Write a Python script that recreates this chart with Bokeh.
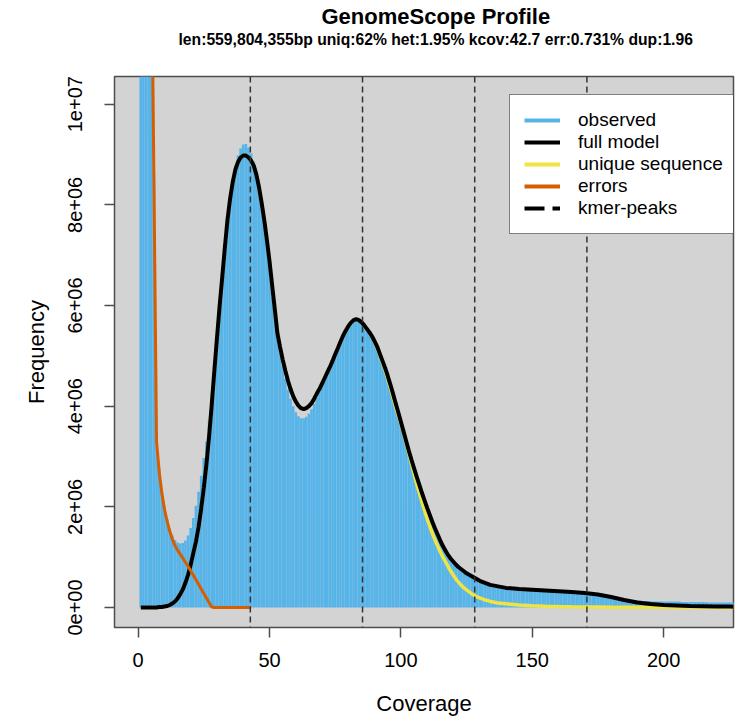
from bokeh.plotting import figure
from bokeh.models import Range1d, Span, Legend, LegendItem, Title, FixedTicker
from bokeh.embed import file_html
from bokeh.resources import INLINE

MIL = 1e6
FONT = "Liberation Sans"

# ---------------- data (frequencies in millions) ----------------
coverage = list(range(1, 231))
observed_m = [
    180.0, 52.0, 28.0, 19.0, 13.8, 8.6, 3.45, 2.78, 2.32, 2.00,
    1.76, 1.57, 1.43, 1.34, 1.29, 1.27, 1.28, 1.33, 1.43, 1.58,
    1.78, 2.02, 2.30, 2.62, 2.97, 3.30, 3.72, 4.25, 4.85, 5.45,
    6.05, 6.63, 7.20, 7.72, 8.15, 8.50, 8.78, 8.98, 9.12, 9.20,
    9.21, 9.14, 9.02, 8.86, 8.64, 8.37, 8.04, 7.68, 7.28, 6.84,
    6.36, 5.88, 5.40, 5.06, 4.80, 4.55, 4.33, 4.15, 4.00, 3.88,
    3.80, 3.76, 3.76, 3.79, 3.85, 3.94, 4.05, 4.17, 4.29, 4.42,
    4.54, 4.66, 4.77, 4.90, 5.03, 5.15, 5.28, 5.40, 5.50, 5.59,
    5.65, 5.69, 5.70, 5.68, 5.63, 5.57, 5.50, 5.44, 5.36, 5.26,
    5.15, 5.01, 4.87, 4.73, 4.57, 4.40, 4.22, 4.03, 3.85, 3.66,
    3.47, 3.28, 3.09, 2.91, 2.74, 2.57, 2.41, 2.25, 2.10, 1.95,
    1.81, 1.67, 1.54, 1.42, 1.30, 1.19, 1.10, 1.01, 0.94, 0.88,
    0.82, 0.77, 0.73, 0.69, 0.65, 0.62, 0.59, 0.56, 0.53, 0.50,
    0.48, 0.46, 0.44, 0.43, 0.41, 0.40, 0.39, 0.38, 0.37, 0.37,
    0.36, 0.36, 0.35, 0.35, 0.35, 0.34, 0.34, 0.34, 0.33, 0.33,
    0.33, 0.33, 0.32, 0.32, 0.32, 0.32, 0.31, 0.31, 0.31, 0.30,
    0.30, 0.30, 0.30, 0.29, 0.29, 0.29, 0.28, 0.28, 0.27, 0.27,
    0.26, 0.26, 0.25, 0.24, 0.24, 0.23, 0.22, 0.21, 0.21, 0.20,
    0.19, 0.18, 0.18, 0.17, 0.16, 0.16, 0.15, 0.15, 0.14, 0.14,
    0.14, 0.13, 0.13, 0.13, 0.13, 0.12, 0.12, 0.12, 0.12, 0.12,
    0.12, 0.12, 0.12, 0.12, 0.12, 0.12, 0.11, 0.11, 0.11, 0.11,
    0.11, 0.11, 0.11, 0.11, 0.11, 0.11, 0.10, 0.10, 0.10, 0.10,
    0.10, 0.10, 0.10, 0.10, 0.10, 0.10, 0.10, 0.10, 0.10, 0.10,
]

model_cov = list(range(1, 141)) + [145, 150, 155, 160, 165, 170, 175, 180, 185,
                                   190, 195, 200, 205, 210, 215, 220, 225, 230]
full_model_m = [
    0.00, 0.00, 0.00, 0.00, 0.00, 0.00, 0.00, 0.01, 0.01, 0.02,
    0.03, 0.05, 0.08, 0.12, 0.18, 0.26, 0.36, 0.49, 0.65, 0.85,
    1.08, 1.31, 1.60, 1.97, 2.38, 2.85, 3.40, 4.02, 4.70, 5.35,
    5.98, 6.56, 7.15, 7.70, 8.12, 8.45, 8.70, 8.85, 8.94, 8.98,
    8.98, 8.94, 8.88, 8.78, 8.60, 8.35, 8.04, 7.70, 7.30, 6.88,
    6.40, 5.93, 5.45, 5.18, 4.93, 4.71, 4.51, 4.34, 4.20, 4.09,
    4.01, 3.96, 3.94, 3.96, 4.00, 4.06, 4.15, 4.25, 4.34, 4.45,
    4.56, 4.67, 4.78, 4.90, 5.03, 5.15, 5.28, 5.40, 5.50, 5.59,
    5.66, 5.71, 5.73, 5.71, 5.67, 5.61, 5.54, 5.47, 5.39, 5.29,
    5.18, 5.04, 4.90, 4.76, 4.60, 4.43, 4.25, 4.06, 3.88, 3.69,
    3.50, 3.31, 3.12, 2.94, 2.77, 2.60, 2.44, 2.28, 2.13, 1.98,
    1.84, 1.70, 1.57, 1.45, 1.33, 1.22, 1.13, 1.04, 0.97, 0.91,
    0.85, 0.80, 0.76, 0.72, 0.68, 0.65, 0.62, 0.59, 0.56, 0.53,
    0.51, 0.49, 0.47, 0.45, 0.44, 0.43, 0.42, 0.41, 0.40, 0.39,
    0.37, 0.355, 0.34, 0.325, 0.31, 0.29, 0.26, 0.21, 0.15,
    0.10, 0.07, 0.05, 0.04, 0.03, 0.025, 0.02, 0.018, 0.015,
]
unique_seq_m = [
    0.00, 0.00, 0.00, 0.00, 0.00, 0.00, 0.00, 0.01, 0.01, 0.02,
    0.03, 0.05, 0.08, 0.12, 0.18, 0.26, 0.36, 0.49, 0.65, 0.85,
    1.08, 1.31, 1.60, 1.97, 2.38, 2.85, 3.40, 4.02, 4.70, 5.35,
    5.98, 6.56, 7.15, 7.70, 8.12, 8.45, 8.70, 8.85, 8.94, 8.98,
    8.98, 8.94, 8.88, 8.78, 8.60, 8.35, 8.04, 7.70, 7.30, 6.88,
    6.40, 5.93, 5.45, 5.18, 4.93, 4.71, 4.51, 4.34, 4.20, 4.09,
    4.01, 3.96, 3.94, 3.96, 4.00, 4.06, 4.15, 4.25, 4.34, 4.45,
    4.56, 4.67, 4.78, 4.90, 5.03, 5.15, 5.28, 5.40, 5.50, 5.59,
    5.66, 5.71, 5.73, 5.71, 5.67, 5.61, 5.54, 5.47, 5.38, 5.27,
    5.15, 5.01, 4.86, 4.71, 4.54, 4.36, 4.17, 3.98, 3.82, 3.65,
    3.46, 3.27, 3.07, 2.86, 2.66, 2.46, 2.28, 2.10, 1.93, 1.76,
    1.61, 1.47, 1.34, 1.22, 1.11, 1.00, 0.91, 0.81, 0.72, 0.64,
    0.56, 0.50, 0.44, 0.39, 0.35, 0.31, 0.27, 0.24, 0.21, 0.19,
    0.17, 0.15, 0.14, 0.12, 0.11, 0.10, 0.09, 0.085, 0.08, 0.075,
    0.05, 0.035, 0.025, 0.018, 0.013, 0.01, 0.008, 0.006, 0.005,
    0.004, 0.003, 0.003, 0.002, 0.002, 0.002, 0.001, 0.001, 0.001,
]

error_cov = list(range(1, 44))
errors_m = [
    179.0, 51.5, 27.8, 18.9, 13.6, 8.5, 3.3, 2.70, 2.28, 1.96,
    1.72, 1.52, 1.36, 1.23, 1.14, 1.06, 0.98, 0.90, 0.82, 0.73,
    0.64, 0.55, 0.46, 0.37, 0.28, 0.19, 0.10, 0.01, 0.0, 0.0,
    0.0, 0.0, 0.0, 0.0, 0.0, 0.0, 0.0, 0.0, 0.0, 0.0,
    0.0, 0.0, 0.0,
]

kmer_peaks = [42.7, 85.4, 128.1, 170.8]

x_ticks = [0, 50, 100, 150, 200]
y_ticks = [0, 2e6, 4e6, 6e6, 8e6, 1e7]
y_tick_labels = ["0e+00", "2e+06", "4e+06", "6e+06", "8e+06", "1e+07"]

title_text = "GenomeScope Profile"
subtitle_text = "len:559,804,355bp uniq:62% het:1.95% kcov:42.7 err:0.731% dup:1.96"

C_HIST = "#56B4E9"
C_MODEL = "black"
C_UNIQUE = "#F0E442"
C_ERR = "#D55E00"

observed = [v * MIL for v in observed_m]
full_model = [v * MIL for v in full_model_m]
unique_seq = [v * MIL for v in unique_seq_m]
errors = [v * MIL for v in errors_m]

# ---------------- figure ----------------
p = figure(width=748, height=718, output_backend="svg", toolbar_location=None,
           title=None,
           x_range=Range1d(-9.0, 226.6), y_range=Range1d(-0.397e6, 10.55e6),
           min_border_left=114, min_border_right=15,
           min_border_top=76, min_border_bottom=91)

p.background_fill_color = "#D3D3D3"
p.border_fill_color = "white"
p.outline_line_color = "#4d4d4d"
p.outline_line_width = 1.5
p.grid.visible = False

p.vbar(x=coverage, top=observed, bottom=0, width=1.0,
       fill_color=C_HIST, line_color=None)

for pk in kmer_peaks:
    p.add_layout(Span(location=pk, dimension="height", line_color="#333333",
                      line_width=1.5, line_dash="6 4"))

r_unique = p.line(model_cov, unique_seq, line_color=C_UNIQUE, line_width=3.5)
r_model = p.line(model_cov, full_model, line_color=C_MODEL, line_width=4)
r_err = p.line(error_cov, errors, line_color=C_ERR, line_width=3)

# legend glyphs (single-point lines: draw nothing in the plot)
lg_obs = p.line(coverage[:1], observed[:1], line_color=C_HIST, line_width=4)
lg_model = p.line(model_cov[:1], full_model[:1], line_color=C_MODEL, line_width=4)
lg_unique = p.line(model_cov[:1], unique_seq[:1], line_color=C_UNIQUE, line_width=4)
lg_err = p.line(error_cov[:1], errors[:1], line_color=C_ERR, line_width=4)
lg_peak = p.line(kmer_peaks[:1], [0], line_color="black", line_width=4,
                 line_dash="20 8")

legend = Legend(items=[
    LegendItem(label="observed", renderers=[lg_obs]),
    LegendItem(label="full model", renderers=[lg_model]),
    LegendItem(label="unique sequence", renderers=[lg_unique]),
    LegendItem(label="errors", renderers=[lg_err]),
    LegendItem(label="kmer-peaks", renderers=[lg_peak]),
], location=(395, 393))
legend.padding = 14
legend.margin = 0
legend.spacing = 0
legend.label_height = 22
legend.glyph_height = 22
legend.glyph_width = 36
legend.label_standoff = 18
legend.label_text_font = FONT
legend.label_text_font_size = "19px"
legend.label_text_color = "black"
legend.border_line_color = "black"
legend.border_line_width = 1.5
legend.background_fill_color = "white"
legend.background_fill_alpha = 1.0
p.add_layout(legend)

# axes
p.xaxis.ticker = FixedTicker(ticks=x_ticks)
p.yaxis.ticker = FixedTicker(ticks=y_ticks)
p.yaxis.major_label_overrides = {t: l for t, l in zip(y_ticks, y_tick_labels)}
p.yaxis.major_label_orientation = "vertical"
for ax in (p.xaxis, p.yaxis):
    ax.axis_line_color = None
    ax.major_tick_out = 10
    ax.major_tick_in = 0
    ax.minor_tick_line_color = None
    ax.major_tick_line_color = "#4d4d4d"
    ax.major_tick_line_width = 1.5
    ax.major_label_text_font = FONT
    ax.major_label_text_font_size = "20px"
    ax.major_label_text_color = "black"
    ax.axis_label_text_font = FONT
    ax.axis_label_text_font_size = "22px"
    ax.axis_label_text_font_style = "normal"
    ax.axis_label_text_color = "black"
p.xaxis.major_label_standoff = 15
p.xaxis.axis_label_standoff = 21
p.yaxis.major_label_standoff = 22
p.yaxis.axis_label_standoff = 17
p.xaxis.axis_label = "Coverage"
p.yaxis.axis_label = "Frequency"

# titles: stacked above the frame (spacer, subtitle, main title)
p.add_layout(Title(text=" ", text_font_size="2px", standoff=25), "above")
p.add_layout(Title(text=subtitle_text, align="left", offset=64, text_font=FONT,
                   text_font_size="15.7px", text_font_style="bold",
                   text_color="black", standoff=0), "above")
p.add_layout(Title(text=title_text, align="left", offset=207, text_font=FONT,
                   text_font_size="22px", text_font_style="bold",
                   text_color="black", standoff=0), "above")

open("out.html", "w").write(file_html(p, INLINE))
